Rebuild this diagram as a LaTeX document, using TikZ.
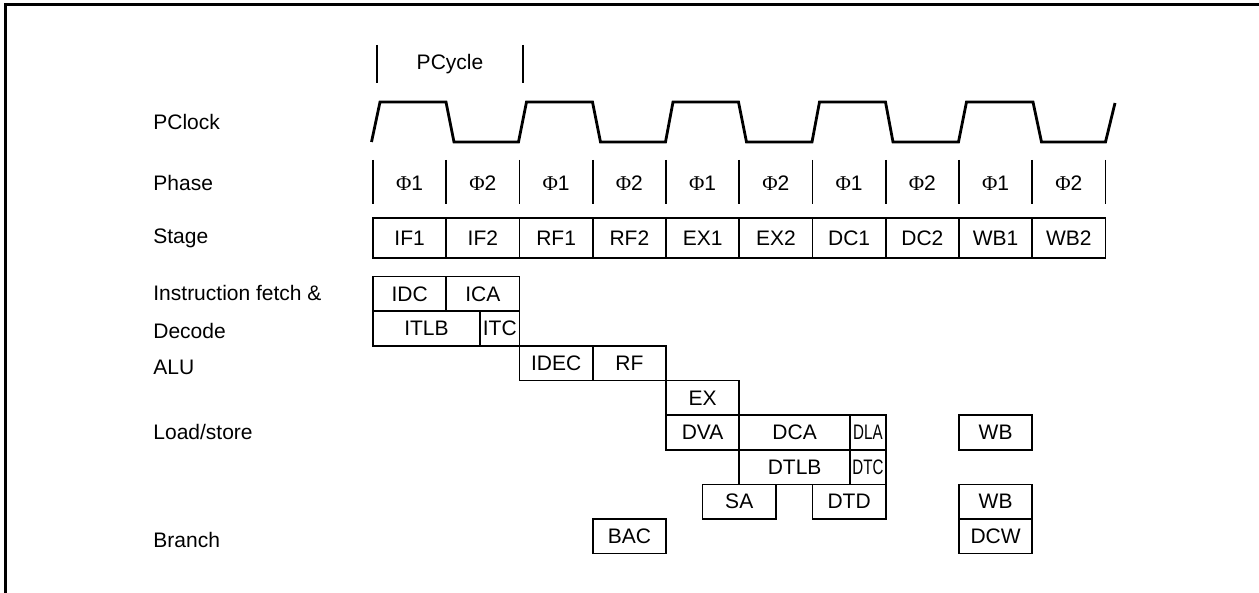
\documentclass[tikz,border=0pt]{standalone}
\usepackage{fontspec}
\setmainfont{Liberation Sans}
\newfontfamily\phifont{Liberation Serif}
\begin{document}
\begin{tikzpicture}[x=0.5pt,y=-0.5pt,
  lbl/.style={anchor=west,inner sep=0pt,font=\fontsize{10.5}{12}\selectfont},
  txt/.style={inner sep=0pt,font=\fontsize{10.5}{12}\selectfont},
  cell/.style={draw,line width=0.8pt,inner sep=0pt,font=\fontsize{10.5}{12}\selectfont},
  tick/.style={line width=0.8pt},
  wave/.style={line width=1.4pt,line join=miter},
  frame/.style={line width=1.5pt}]
\useasboundingbox (0,0) rectangle (1259,593);
\newcommand\bx[6]{\node[cell,minimum width={((#4)-(#2))*0.5pt},minimum height={((#5)-(#3))*0.5pt}] (#1) at ({((#2)+(#4))/2},{((#3)+(#5))/2}) {#6};}
\newcommand\ph[1]{{\phifont\char"03A6}#1}
% frame
\draw[frame] (5,594) -- (5,5) -- (1260,5);
% labels
\node[lbl] (lclk) at (153,122) {PClock};
\node[lbl] (lph) at (153,183) {Phase};
\node[lbl] (lst) at (153,238) {Stage};
\node[lbl] (lif) at (153,293) {Instruction fetch \&};
\node[lbl] (ldec) at (153,331) {Decode};
\node[lbl] (lalu) at (153,367) {ALU};
\node[lbl] (lls) at (153,432) {Load/store};
\node[lbl] (lbr) at (153,540) {Branch};
% PCycle
\draw[tick] (377,45) -- (377,83);
\draw[tick] (523,45) -- (523,83);
\node[txt] (pcyc) at (450,64) {PCycle};
% PClock wave
\draw[wave] (371.5,142) -- (380,102) -- (446,102) -- (454,142)
  -- (518.5,142) -- (526.5,102) -- (592.5,102) -- (600.5,142)
  -- (665.5,142) -- (673,102) -- (738.5,102) -- (746.5,142)
  -- (812,142) -- (819.5,102) -- (885.5,102) -- (893,142)
  -- (958.5,142) -- (966.5,102) -- (1033,102) -- (1041.5,142)
  -- (1105.5,142) -- (1115,103);
% Phase ticks and labels
\foreach \i in {0,...,10}{
  \draw[tick] ({373+73.25*\i},160) -- ({373+73.25*\i},204);
}
\foreach \i/\p in {0/1,1/2,2/1,3/2,4/1,5/2,6/1,7/2,8/1,9/2}{
  \node[txt] (ph\i) at ({373+73.25*\i+36.6},183) {\ph{\p}};
}
% Stage boxes
\foreach \i/\s in {0/IF1,1/IF2,2/RF1,3/RF2,4/EX1,5/EX2,6/DC1,7/DC2,8/WB1,9/WB2}{
  \bx{st\i}{373+73.25*\i}{218.3}{373+73.25*(\i+1)}{258.3}{\s}
}
% pipeline boxes
\bx{idc}{373}{276.7}{446.25}{311.3}{IDC}
\bx{ica}{446.25}{276.7}{519.5}{311.3}{ICA}
\bx{itlb}{373}{311.3}{480}{345.9}{ITLB}
\bx{itc}{480}{311.3}{519.5}{345.9}{ITC}
\bx{idec}{519.5}{345.9}{592.75}{380.5}{IDEC}
\bx{rf}{592.75}{345.9}{666}{380.5}{RF}
\bx{ex}{666}{380.5}{739.25}{415.1}{EX}
\bx{dva}{666}{415.1}{739.25}{449.7}{DVA}
\bx{dca}{739.25}{415.1}{850}{449.7}{DCA}
\bx{dla}{850}{415.1}{885.75}{449.7}{\scalebox{0.72}[1]{DLA}}
\bx{dtlb}{739.25}{449.7}{850}{484.3}{DTLB}
\bx{dtc}{850}{449.7}{885.75}{484.3}{\scalebox{0.72}[1]{DTC}}
\bx{sa}{702.6}{484.3}{775.9}{518.9}{SA}
\bx{dtd}{812.5}{484.3}{885.75}{518.9}{DTD}
\bx{bac}{592.75}{518.9}{666}{553.5}{BAC}
\bx{wba}{959}{415.1}{1032.25}{449.7}{WB}
\bx{wbb}{959}{484.3}{1032.25}{518.9}{WB}
\bx{dcw}{959}{518.9}{1032.25}{553.5}{DCW}
\end{tikzpicture}
\end{document}
